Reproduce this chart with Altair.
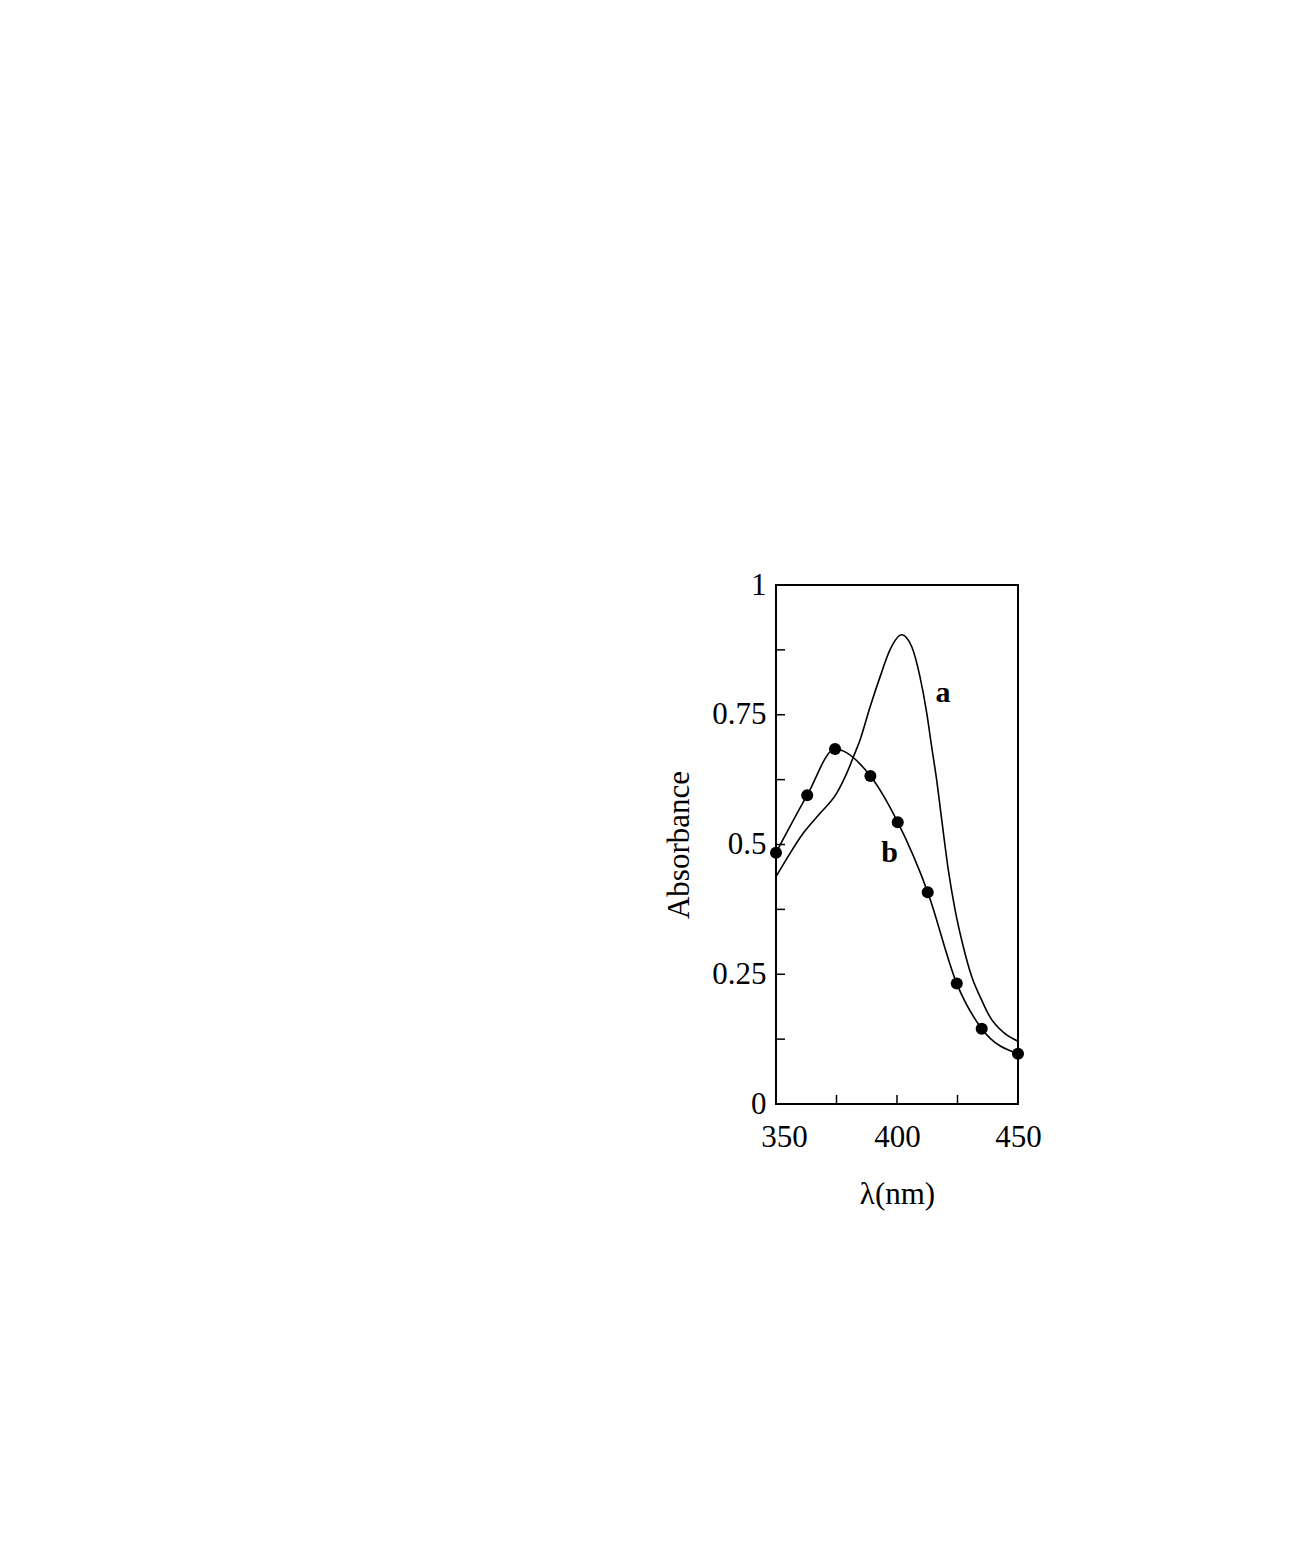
import altair as alt
import pandas as pd

# Curve a (continuous spectrum)
a_wl = [350, 355.8, 361.3, 368.2, 375.1, 379.2, 382.6, 384.7, 388.8, 393.0, 397.1,
        401.9, 406.1, 409.5, 412.3, 414.3, 416.4, 418.5, 421.2, 424.0, 427.4,
        430.9, 435.0, 438.4, 444.0, 450.0]
a_abs = [0.438, 0.483, 0.522, 0.560, 0.599, 0.637, 0.676, 0.701, 0.764, 0.823, 0.875,
         0.904, 0.881, 0.823, 0.753, 0.689, 0.624, 0.547, 0.451, 0.374, 0.303,
         0.245, 0.200, 0.168, 0.138, 0.121]

# Curve b (measured points)
b_wl = [350.0, 362.9, 374.4, 389.0, 400.3, 412.7, 424.7, 435.0, 450.0]
b_abs = [0.484, 0.595, 0.684, 0.632, 0.543, 0.408, 0.232, 0.145, 0.097]

# Curve labels
lab_text = ["a", "b"]
lab_wl = [419.0, 396.9]
lab_abs = [0.775, 0.467]

# Tick positions
x_ticks = [350, 375, 400, 425, 450]
y_ticks = [0, 0.125, 0.25, 0.375, 0.5, 0.625, 0.75, 0.875, 1.0]
x_labels = [350, 400, 450]
y_labels = [0, 0.25, 0.5, 0.75, 1.0]

FONT = "Liberation Serif"
W, H = 242, 519

dfa = pd.DataFrame({"wl": a_wl, "abs": a_abs})
dfb = pd.DataFrame({"wl": b_wl, "abs": b_abs})
dfl = pd.DataFrame({"t": lab_text, "wl": lab_wl, "abs": lab_abs})
dfxt = pd.DataFrame({"wl": x_ticks})
dfyt = pd.DataFrame({"abs": y_ticks})

xs = alt.Scale(domain=[350, 450], nice=False, zero=False)
ys = alt.Scale(domain=[0, 1], nice=False, zero=False)

xaxis = alt.Axis(values=x_labels, title="λ(nm)", ticks=False, tickSize=0, domain=False,
                 grid=False, labelFont=FONT, labelFontSize=31, labelColor="black",
                 labelPadding=18, titleFont=FONT, titleFontSize=31, titleFontWeight="normal",
                 titleColor="black", titlePadding=27, labelFlush=False,
                 labelOffset={"condition": {"test": "datum.value == 350", "value": 8}, "value": 0})
yaxis = alt.Axis(values=y_labels, title="Absorbance", labelExpr="'' + datum.value",
                 ticks=False, tickSize=0,
                 domain=False, grid=False, labelFont=FONT, labelFontSize=31,
                 labelColor="black", labelPadding=10, titleFont=FONT, titleFontSize=31,
                 titleFontWeight="normal", titleColor="black", titlePadding=16)

X = alt.X("wl:Q", scale=xs, axis=xaxis, title="λ(nm)")
Y = alt.Y("abs:Q", scale=ys, axis=yaxis, title="Absorbance")

line_a = alt.Chart(dfa).mark_line(color="black", strokeWidth=1.6, interpolate="monotone").encode(
    x=X, y=Y)
line_b = alt.Chart(dfb).mark_line(color="black", strokeWidth=1.6, interpolate="monotone").encode(
    x=X, y=Y)
pts_b = alt.Chart(dfb).mark_point(filled=True, color="black", size=145, opacity=1).encode(
    x=X, y=Y)
labels = alt.Chart(dfl).mark_text(font=FONT, fontSize=30, fontWeight="bold", color="black",
                                  baseline="alphabetic", align="center").encode(
    x=X, y=Y, text="t:N")
yt = alt.Chart(dfyt).mark_rule(color="black", strokeWidth=1.5).encode(
    y=Y, x=alt.value(0), x2=alt.value(9))
xt = alt.Chart(dfxt).mark_rule(color="black", strokeWidth=1.5).encode(
    x=X, y=alt.value(H), y2=alt.value(H - 9))

chart = alt.layer(line_a, line_b, pts_b, labels, yt, xt).properties(
    width=W, height=H,
    autosize=alt.AutoSizeParams(type="none"),
    padding={"left": 768, "top": 577, "right": 60, "bottom": 150},
    background="white",
).configure_view(stroke="black", strokeWidth=2)

chart.save("out.html", embed_options={"renderer": "svg", "actions": False})
